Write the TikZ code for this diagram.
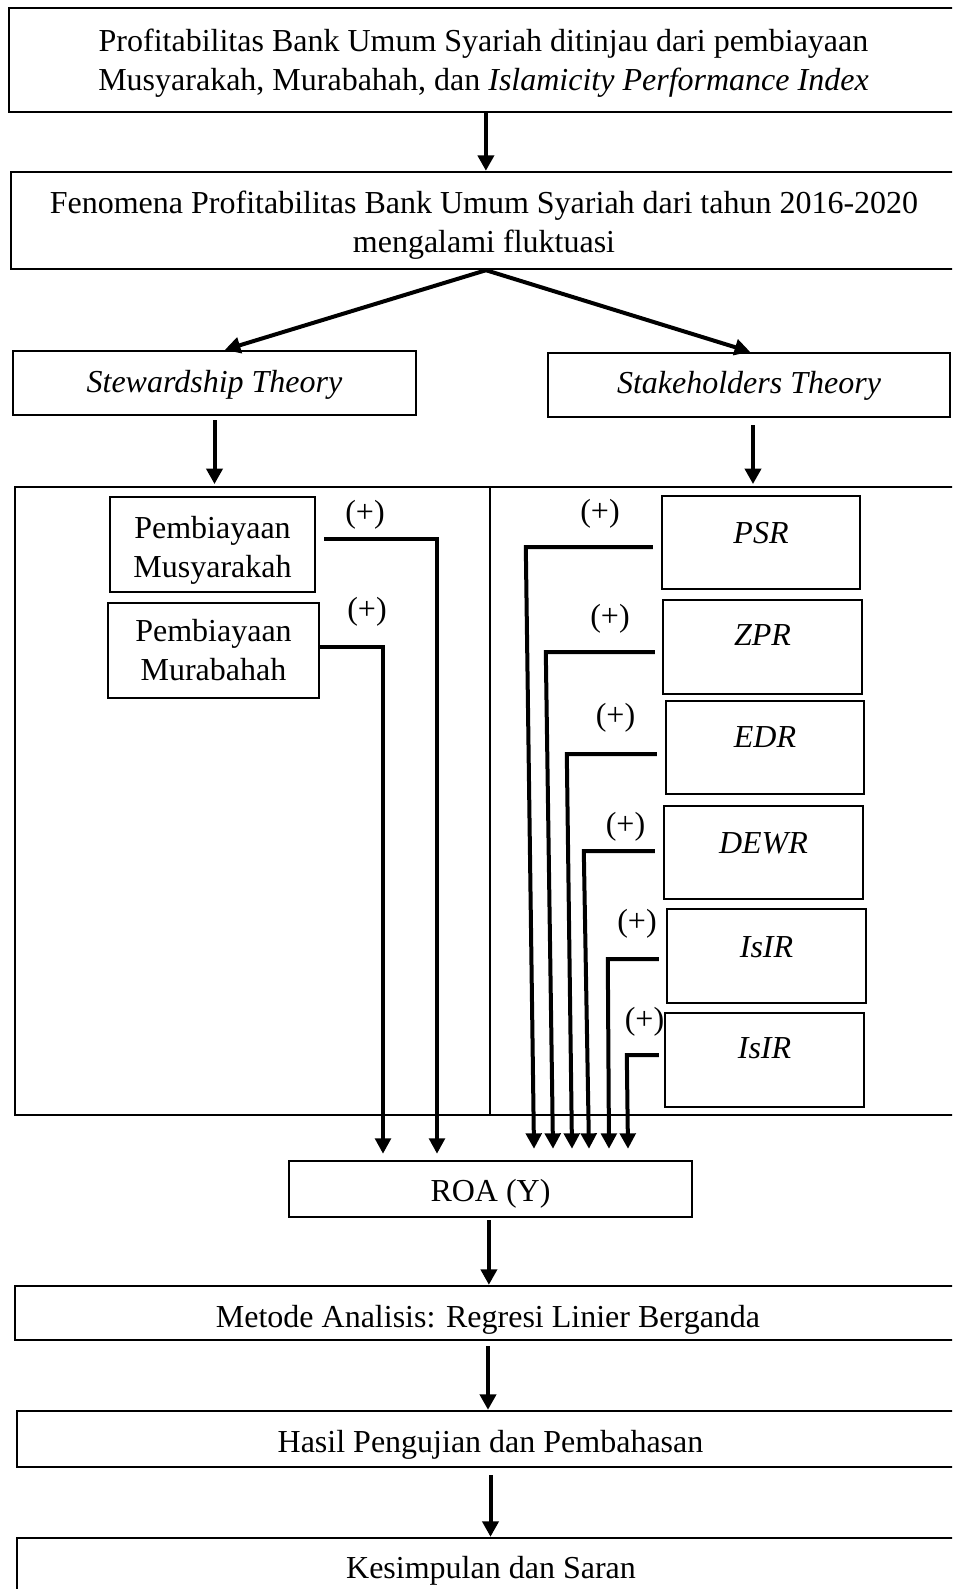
\documentclass[tikz,border=0pt]{standalone}
\usepackage{fontspec}
\setmainfont{Liberation Serif}
\usetikzlibrary{arrows.meta,calc}
\newcommand\twolines[3]{\raisebox{-#1}[\height][\depth]{\begin{tabular}{@{}c@{}}#2\\#3\end{tabular}}}
\begin{document}
\begin{tikzpicture}[x=0.375pt,y=-0.375pt,
  box/.style={draw, line width=0.9pt, inner sep=0pt, align=center, font=\fontsize{12}{14.5}\selectfont},
  arr/.style={line width=1.5pt, -{Triangle[width=6pt,length=5.8pt]}},
  conn/.style={line width=1.5pt, -{Triangle[width=5.8pt,length=5.8pt]}},
  plus/.style={inner sep=0pt, font=\fontsize{12}{14.5}\selectfont}]
\useasboundingbox (0,0) rectangle (952,1589);
\clip (0,0) rectangle (952,1589);

% main flow boxes
\node[box, minimum width=355.875pt, minimum height=39pt] (top) at (483.5,60)
  {\twolines{1.1pt}{Profitabilitas Bank Umum Syariah ditinjau dari pembiayaan}{Musyarakah, Murabahah, dan \textit{Islamicity Performance Index}}};
\node[box, minimum width=354.75pt, minimum height=36.375pt] (fen) at (484,220.5)
  {\twolines{1.9pt}{Fenomena Profitabilitas Bank Umum Syariah dari tahun 2016-2020}{mengalami fluktuasi}};
\node[box, minimum width=151.125pt, minimum height=24pt, text height=15.375pt, text depth=8.625pt] (stew) at (214.5,383)
  {\textit{Stewardship Theory}};
\node[box, minimum width=150.75pt, minimum height=24pt, text height=15pt, text depth=9pt] (stake) at (749,385)
  {\textit{Stakeholders Theory}};

% container
\node[draw, line width=0.5pt, inner sep=0pt, outer sep=0pt, minimum width=354.375pt, minimum height=235.5pt] (cont) at (487.5,801) {};
\coordinate (dv) at (490,0);
\draw[line width=0.4pt] (cont.north -| dv) -- (cont.south -| dv);

% left variables
\node[box, minimum width=76.875pt, minimum height=35.625pt] (musy) at (212.5,544.5) {\twolines{2.2pt}{Pembiayaan}{Musyarakah}};
\node[box, minimum width=79.125pt, minimum height=35.625pt] (mura) at (213.5,650.5) {\twolines{1.1pt}{Pembiayaan}{Murabahah}};

% right variables
\node[box, minimum width=74.25pt, minimum height=34.875pt, text height=17.625pt, text depth=17.25pt] (psr) at (761,542.5) {\textit{PSR}};
\node[box, minimum width=74.625pt, minimum height=35.25pt, text height=16.875pt, text depth=18.375pt] (zpr) at (762.5,647) {\textit{ZPR}};
\node[box, minimum width=74.25pt, minimum height=34.875pt, text height=17.25pt, text depth=17.625pt] (edr) at (765,747.5) {\textit{EDR}};
\node[box, minimum width=74.625pt, minimum height=34.875pt, text height=17.625pt, text depth=17.25pt] (dewr) at (763.5,852.5) {\textit{DEWR}};
\node[box, minimum width=74.625pt, minimum height=35.25pt, text height=18pt, text depth=17.25pt] (isir1) at (766.5,956) {\textit{IsIR}};
\node[box, minimum width=74.625pt, minimum height=35.25pt, text height=16.875pt, text depth=18.375pt] (isir2) at (764.5,1060) {\textit{IsIR}};

% lower flow
\node[box, minimum width=151.125pt, minimum height=21pt, text height=15pt, text depth=6pt] (roa) at (490.5,1189) {ROA (Y)};
\node[box, minimum width=354.75pt, minimum height=20.25pt, text height=15.375pt, text depth=4.875pt] (metode) at (488,1313) {Metode Analisis: Regresi Linier Berganda};
\node[box, minimum width=355.125pt, minimum height=21pt, text height=15.375pt, text depth=5.625pt] (hasil) at (490.5,1439) {Hasil Pengujian dan Pembahasan};
\node[box, minimum width=355.5pt, minimum height=21pt, text height=15pt, text depth=6pt] (kes) at (491,1566) {Kesimpulan dan Saran};

% (+) labels
\node[plus] (pm1) at (365,515) {(+)};
\node[plus] (pm2) at (367,612) {(+)};
\node[plus] (pr1) at (600,514) {(+)};
\node[plus] (pr2) at (610,619) {(+)};
\node[plus] (pr3) at (615.5,718) {(+)};
\node[plus] (pr4) at (625.5,826.5) {(+)};
\node[plus] (pr5) at (637,924) {(+)};
\node[plus] (pr6) at (644.5,1022) {(+)};

% main arrows
\draw[arr] ([xshift=0.9pt]top.south) -- ([xshift=0.9pt]top.south |- fen.north);
\draw[arr] ([xshift=0.75pt]fen.south) -- ([xshift=3.9pt]stew.north);
\draw[arr] ([xshift=0.75pt]fen.south) -- ([xshift=0.4pt]stake.north);
\draw[arr, shorten <=1.5pt, shorten >=1.1pt] (stew.south) -- (stew.south |- cont.north);
\draw[arr, shorten <=2.6pt, shorten >=1.1pt] ([xshift=1.5pt]stake.south) -- ([xshift=1.5pt]stake.south |- cont.north);
\draw[arr, shorten <=0.75pt] ([xshift=-0.6pt]roa.south) -- ([xshift=-0.6pt]roa.south |- metode.north);
\draw[arr, shorten <=1.9pt] (metode.south) -- (metode.south |- hasil.north);
\draw[arr, shorten <=2.6pt] (hasil.south) -- (hasil.south |- kes.north);

% connectors to ROA
\draw[conn] ([shift={(8,-5.5)}]musy.east) -| ([shift={(-53.5,-6)}]roa.north);
\draw[conn] ([shift={(0,-3.5)}]mura.east) -| ([shift={(-107.5,-6)}]roa.north);
\draw[conn] ([shift={(-8,4.5)}]psr.west) -- ++(-127,0) -- ([shift={(43.5,-11)}]roa.north);
\draw[conn] ([shift={(-7,5)}]zpr.west) -- ++(-109,0) -- ([shift={(62.5,-11)}]roa.north);
\draw[conn] ([shift={(-8,6.5)}]edr.west) -- ++(-90,0) -- ([shift={(81.5,-11)}]roa.north);
\draw[conn] ([shift={(-8,-1.5)}]dewr.west) -- ++(-71,0) -- ([shift={(98.5,-11)}]roa.north);
\draw[conn] ([shift={(-7,3)}]isir1.west) -- ++(-51,0) -- ([shift={(118.5,-11)}]roa.north);
\draw[conn] ([shift={(-5,-5)}]isir2.west) -- ++(-32,0) -- ([shift={(137.5,-11)}]roa.north);
\end{tikzpicture}
\end{document}
